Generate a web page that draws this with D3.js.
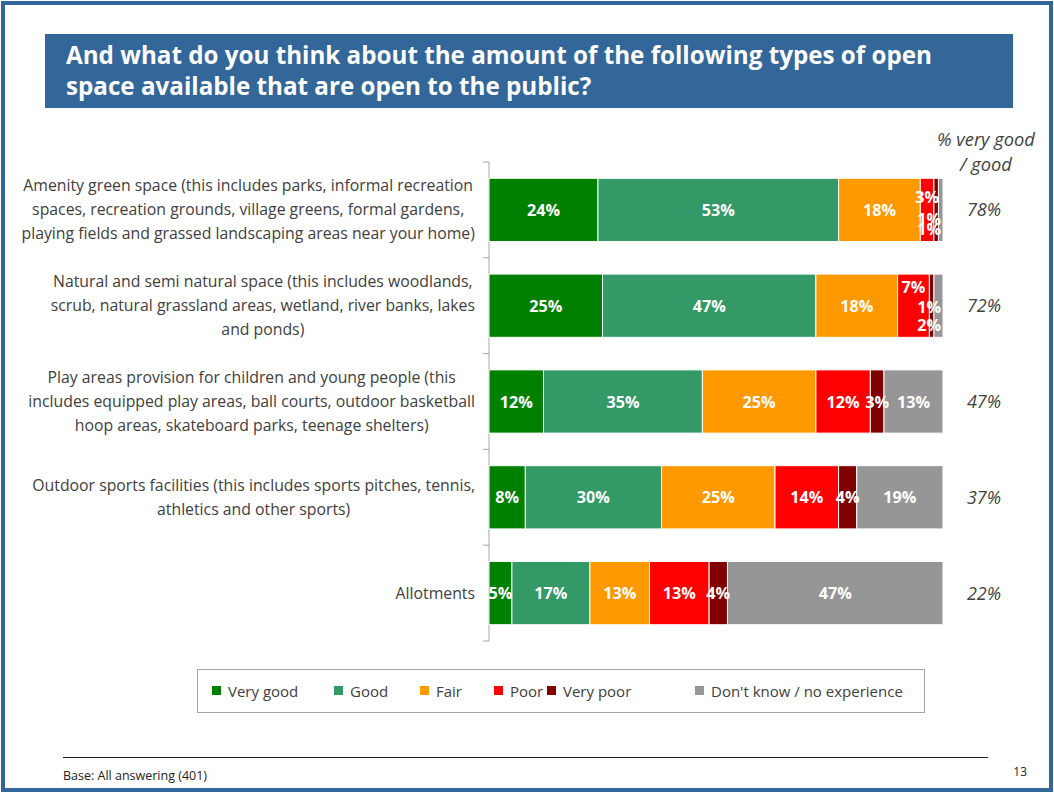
<!DOCTYPE html>
<html>
<head>
<meta charset="utf-8">
<script src="https://cdn.jsdelivr.net/npm/d3@7/dist/d3.min.js"></script>
<style>
  html, body { margin: 0; padding: 0; background: #fff; }
  svg { display: block; font-family: "Open Sans", "DejaVu Sans", sans-serif; }
</style>
</head>
<body>
<svg id="chart" width="1054" height="793"></svg>
<script>
// Survey question and category labels (line breaks as shown on the slide)
const titleLines = [
  "And what do you think about the amount of the following types of open",
  "space available that are open to the public?"
];
const categories = [
  "Amenity green space (this includes parks, informal recreation\nspaces, recreation grounds, village greens, formal gardens,\nplaying fields and grassed landscaping areas near your home)",
  "Natural and semi natural space (this includes woodlands,\nscrub, natural grassland areas, wetland, river banks, lakes\nand ponds)",
  "Play areas provision for children and young people (this\nincludes equipped play areas, ball courts, outdoor basketball\nhoop areas, skateboard parks, teenage shelters)",
  "Outdoor sports facilities (this includes sports pitches, tennis,\nathletics and other sports)",
  "Allotments"
];
const seriesNames = ["Very good", "Good", "Fair", "Poor", "Very poor", "Don't know / no experience"];

// Percentages per category, one array per response
const veryGood = [24, 25, 12, 8, 5];
const good     = [53, 47, 35, 30, 17];
const fair     = [18, 18, 25, 25, 13];
const poor     = [3, 7, 12, 14, 13];
const veryPoor = [1, 1, 3, 4, 4];
const dontKnow = [1, 2, 13, 19, 47];
// Net "% very good / good"
const netGood  = [78, 72, 47, 37, 22];

const seriesColors = ["#008000", "#339966", "#FF9900", "#FF0000", "#800000", "#969696"];

const seriesValues = [veryGood, good, fair, poor, veryPoor, dontKnow];
const rows = categories.map((c, i) => {
  const r = { category: c };
  seriesNames.forEach((s, j) => { r[s] = seriesValues[j][i]; });
  return r;
});

const svg = d3.select("#chart");
const blue = "#336699";
const textGrey = "#404040";

// Slide frame
svg.append("rect").attr("x", 3).attr("y", 3).attr("width", 1048).attr("height", 787)
  .attr("fill", "none").attr("stroke", blue).attr("stroke-width", 4);

// Title banner
svg.append("rect").attr("x", 45).attr("y", 34).attr("width", 968).attr("height", 74).attr("fill", blue);
svg.append("g").selectAll("text").data(titleLines).join("text")
  .attr("x", 66).attr("y", (d, i) => 64 + i * 31)
  .attr("fill", "#fff").attr("font-weight", "bold").attr("font-size", 24.2)
  .text(d => d);

// Scales
const x = d3.scaleLinear().domain([0, 1]).range([489, 943]);
const y = d3.scaleBand().domain(categories).range([162, 641]).paddingInner(0.34).paddingOuter(0.17);

const stack = d3.stack().keys(seriesNames).offset(d3.stackOffsetExpand);
const stacked = stack(rows);

// Category axis: spine plus ticks between bands
const axisG = svg.append("g").attr("transform", `translate(${x.range()[0]},0)`)
  .call(d3.axisLeft(y).tickSize(0).tickFormat(""));
axisG.select(".domain").attr("stroke", "#A6A6A6").attr("d", `M0,${y.range()[0]}V${y.range()[1]}`);
const bounds = d3.range(categories.length + 1).map(i => y.range()[0] + i * y.step());
axisG.selectAll(".bound").data(bounds).join("line").attr("class", "bound")
  .attr("x1", -6).attr("x2", 0).attr("y1", d => d).attr("y2", d => d)
  .attr("stroke", "#A6A6A6");

// Category labels: each wrapped block is centred within itself and right-aligned to the axis
const labelG = svg.append("g");
categories.forEach(c => {
  const lines = c.split("\n");
  const lh = 24;
  const cy = y(c) + y.bandwidth() / 2;
  const t = labelG.append("text").attr("font-size", 15.8).attr("fill", textGrey)
    .attr("text-anchor", "middle");
  lines.forEach((l, i) => {
    t.append("tspan").attr("x", 0).attr("y", cy + (i - (lines.length - 1) / 2) * lh + 5.5).text(l);
  });
  const w = t.node().getBBox().width;
  t.attr("transform", `translate(${475 - w / 2},0)`);
});

// Bars
const barG = svg.append("g");
stacked.forEach((layer, j) => {
  barG.append("g").attr("fill", seriesColors[j]).selectAll("rect").data(layer).join("rect")
    .attr("x", d => x(d[0])).attr("width", d => x(d[1]) - x(d[0]))
    .attr("y", d => y(d.data.category)).attr("height", y.bandwidth())
    .attr("stroke", "#fff").attr("stroke-width", 1);
});

// Value labels; small segments near the end are lifted or dropped so they stay readable
const labelShift = { "0-3": -12.5, "0-4": 9.5, "0-5": 19.5, "1-3": -19, "1-4": 1, "1-5": 19 };
const valG = svg.append("g").attr("font-size", 16.2).attr("font-weight", "bold").attr("fill", "#fff");
stacked.forEach((layer, j) => {
  layer.forEach((d, i) => {
    const val = seriesValues[j][i];
    const t = valG.append("text").attr("text-anchor", "middle").text(val + "%");
    const w = t.node().getComputedTextLength();
    let cx = (x(d[0]) + x(d[1])) / 2;
    const limit = x.range()[1] - 2;
    if (cx + w / 2 > limit) cx = limit - w / 2;
    const cy = y(d.data.category) + y.bandwidth() / 2 + (labelShift[`${i}-${j}`] || 0);
    t.attr("x", cx).attr("y", cy + 6);
  });
});

// Net score column
const netX = 984;
svg.append("g").selectAll("text").data(["% very good", "/ good"]).join("text")
  .attr("x", 986).attr("y", (d, i) => 146 + i * 25)
  .attr("text-anchor", "middle").attr("font-style", "italic").attr("font-size", 18.3)
  .attr("fill", textGrey).text(d => d);
svg.append("g").selectAll("text").data(netGood).join("text")
  .attr("x", netX).attr("y", (d, i) => y(categories[i]) + y.bandwidth() / 2 + 6.5)
  .attr("text-anchor", "middle").attr("font-style", "italic").attr("font-size", 18)
  .attr("fill", textGrey).text(d => d + "%");

// Legend
svg.append("rect").attr("x", 197.5).attr("y", 669.5).attr("width", 727).attr("height", 43)
  .attr("fill", "#fff").attr("stroke", "#A6A6A6");
const legendX = [212, 334, 420, 494, 547, 695];
const legG = svg.append("g");
seriesNames.forEach((s, j) => {
  legG.append("rect").attr("x", legendX[j]).attr("y", 686).attr("width", 9).attr("height", 9)
    .attr("fill", seriesColors[j]);
  legG.append("text").attr("x", legendX[j] + 16).attr("y", 697).attr("font-size", 15)
    .attr("fill", textGrey).text(s);
});

// Footer
svg.append("line").attr("x1", 63).attr("x2", 988).attr("y1", 757.5).attr("y2", 757.5)
  .attr("stroke", "#222").attr("stroke-width", 1);
svg.append("text").attr("x", 63).attr("y", 780).attr("font-size", 12.5).attr("fill", "#222")
  .text("Base: All answering (401)");
svg.append("text").attr("x", 1027).attr("y", 776).attr("text-anchor", "end").attr("font-size", 12)
  .attr("fill", "#222").text("13");
</script>
</body>
</html>
